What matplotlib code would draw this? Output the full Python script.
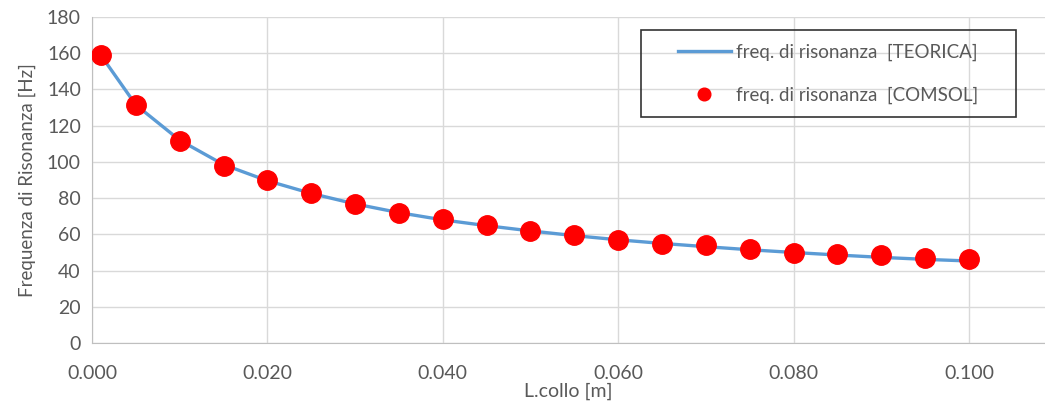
import numpy as np
import matplotlib.pyplot as plt
from matplotlib.patches import Rectangle

# lunghezza collo [m]
l_collo = [0.001, 0.005, 0.010, 0.015, 0.020, 0.025, 0.030, 0.035, 0.040, 0.045,
           0.050, 0.055, 0.060, 0.065, 0.070, 0.075, 0.080, 0.085, 0.090, 0.095, 0.100]
f_teorica = [159.0, 131.5, 112.0, 98.5, 89.6, 82.6, 76.8, 72.0, 68.0, 64.8,
             61.9, 59.3, 57.0, 55.0, 53.2, 51.5, 50.0, 48.6, 47.3, 46.2, 45.3]
f_comsol = [159.0, 131.4, 111.7, 97.9, 90.0, 82.6, 76.6, 71.6, 68.3, 65.3,
            62.0, 59.6, 57.1, 54.7, 53.9, 51.9, 49.9, 49.1, 48.4, 46.9, 46.2]

grey = "#595959"
plt.rcParams["font.family"] = ["Lato", "DejaVu Sans"]

fig = plt.figure(figsize=(10.45, 4.05), dpi=100)
ax = fig.add_axes([0.088, 0.153, 0.912, 0.805])

ax.plot(l_collo, f_teorica, color="#5B9BD5", lw=2.4, label="freq. di risonanza  [TEORICA]", zorder=3)
ax.plot(l_collo, f_comsol, "o", color="#FF0000", ms=14, mec="#FF0000",
        label="freq. di risonanza  [COMSOL]", zorder=4)

ax.set_xlim(0, 0.10867)
ax.set_ylim(0, 180)
ax.set_xticks(np.arange(0, 0.101, 0.02))
ax.set_xticklabels(["%.3f" % v for v in np.arange(0, 0.101, 0.02)])
ax.set_yticks(range(0, 181, 20))
ax.grid(True, color="#D9D9D9", lw=1)
ax.set_axisbelow(True)
for s in ["top", "right"]:
    ax.spines[s].set_visible(False)
for s in ["left", "bottom"]:
    ax.spines[s].set_color("#BFBFBF")
ax.tick_params(length=0, labelsize=14, colors=grey, pad=8)
ax.tick_params(axis="x", pad=16)

ax.set_xlabel("L.collo [m]", fontsize=14, color=grey, labelpad=0)
ax.set_ylabel("Frequenza di Risonanza [Hz]", fontsize=13.5, color=grey, labelpad=8)

# legenda con riquadro disegnato a parte
leg = ax.legend(loc="center", bbox_to_anchor=(0.7926, 0.8185), bbox_transform=fig.transFigure,
                fontsize=13.5, frameon=False, labelspacing=1.35, handlelength=2.8,
                handletextpad=0.3, numpoints=1, markerscale=0.65)
for t in leg.get_texts():
    t.set_color(grey)
fig.patches.append(Rectangle((641 / 1045, 1 - 117 / 405), 375 / 1045, 87 / 405,
                             transform=fig.transFigure, fill=False,
                             edgecolor="#333333", lw=1.2, zorder=5))

fig.savefig("out.png", dpi=100)
